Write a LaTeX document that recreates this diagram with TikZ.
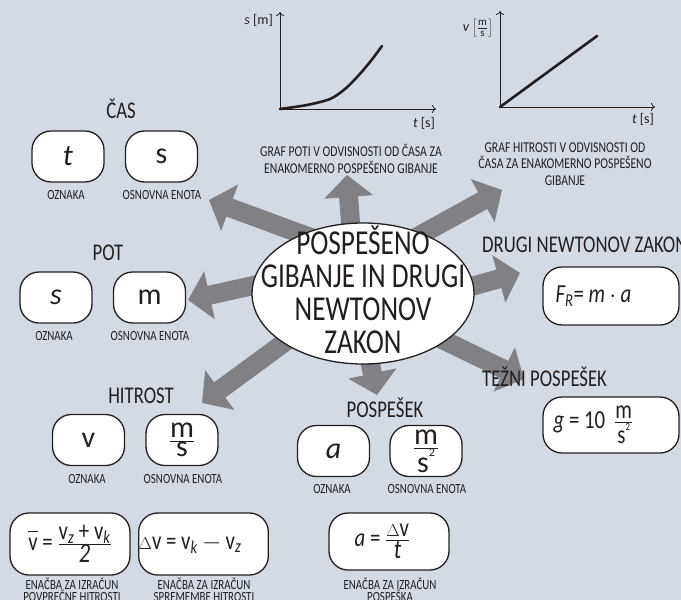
\documentclass[tikz,border=0pt]{standalone}
\usepackage{fontspec}
\setmainfont[FakeStretch=0.78]{Carlito}
\newfontfamily\symf{Carlito}
\newfontfamily\eqf[FakeStretch=0.8]{Carlito}
\newfontfamily\bigf[FakeStretch=0.78]{Carlito}
\usetikzlibrary{arrows.meta,shapes.geometric}

\definecolor{bg}{RGB}{212,218,228}
\definecolor{arrowgray}{RGB}{128,128,133}
\definecolor{ink}{RGB}{35,31,32}

\pgfdeclarelayer{paper}
\pgfdeclarelayer{under}
\pgfsetlayers{paper,under,main}

% fraction whose parts are set in the current text font
\newcommand\ufrac[2]{\ensuremath{\frac{\hbox{#1}}{\hbox{#2}}}}
\newcommand\lowidx[1]{\textsubscript{\itshape #1}}

\tikzset{
  box/.style={draw=ink, line width=1.3pt, fill=white, rounded corners=19pt,
    minimum width=72pt, minimum height=51pt, inner sep=0pt,
    font=\symf\fontsize{30}{30}\selectfont, text=ink},
  eqbox/.style={box, font=\eqf\fontsize{26}{26}\selectfont},
  title/.style={font=\fontsize{24}{24}\selectfont, text=ink, inner sep=0pt, anchor=base},
  lbl/.style={font=\fontsize{14}{12}\selectfont, text=ink, inner sep=0pt, anchor=base, align=center},
  caption/.style={font=\fontsize{15}{16.5}\selectfont, text=ink, inner sep=0pt, anchor=base, align=center},
  glab/.style={font=\symf\fontsize{14}{14}\selectfont, text=ink, inner sep=0pt},
  bigarrow/.style={draw=arrowgray, line width=19pt, shorten <=-25pt,
    -{Triangle[width=48pt,length=22pt]}},
  axis/.style={draw=ink, line width=0.8pt, -{To[length=4pt,width=8pt]}},
}

\begin{document}
\begin{tikzpicture}[x=1pt,y=-1pt]
\useasboundingbox (0,0) rectangle (681,600);
\clip (0,0) rectangle (681,600);
\begin{pgfonlayer}{paper}
  \fill[bg] (0,0) rectangle (681,600);
\end{pgfonlayer}

% ---------- central topic ----------
\node[ellipse, draw=ink, line width=1.3pt, fill=white, minimum width=222pt,
  minimum height=141pt, inner sep=0pt] (ell) at (363,293.5) {};
\node[inner sep=0pt, align=center, text=ink, anchor=base,
  font=\bigf\fontsize{35}{33}\selectfont] (ellTxt) at (363,353.5)
  {POSPEŠENO\\GIBANJE IN DRUGI\\NEWTONOV\\ZAKON};

% ---------- arrow targets ----------
\coordinate (tipCas) at (209,200);
\coordinate (tipGs) at (347,175);
\coordinate (tipGv) at (502,190);
\coordinate (tipNz) at (520,273);
\coordinate (tipTp) at (524,379);
\coordinate (tipPs) at (377,395);
\coordinate (tipHi) at (202,403);
\coordinate (tipPot) at (188,300);

\begin{pgfonlayer}{under}
  \draw[bigarrow] (ell.136) -- (tipCas);
  \draw[bigarrow] (ell.100) -- (tipGs);
  \draw[bigarrow] (ell.45) -- (tipGv);
  \draw[bigarrow] (ell.4) -- (tipNz);
  \draw[bigarrow] (ell.-30) -- (tipTp);
  \draw[bigarrow] (ell.-84) -- (tipPs);
  \draw[bigarrow] (ell.-148) -- (tipHi);
  \draw[bigarrow] (ell.176) -- (tipPot);
\end{pgfonlayer}

% ---------- graph s(t) ----------
\coordinate (so) at (280,109);
\coordinate (sy) at (280,12);
\coordinate (sx) at (436,109);
\draw[axis] (so) -- (sy);
\draw[axis] (so) -- (sx);
\draw[ink, line width=2.6pt, line cap=round]
  plot[smooth] coordinates {(280,109) (307,105) (330,99) (345,89) (358,76) (370,62) (382,46)};
\node[glab, anchor=base east] (sylab) at (273,24) {\itshape s\upshape\ [m]};
\node[glab, anchor=base] (sxlab) at (424,127) {\itshape t\upshape\ [s]};
\node[caption] (scap) at (351,173) {GRAF POTI V ODVISNOSTI OD ČASA ZA\\ENAKOMERNO POSPEŠENO GIBANJE};

% ---------- graph v(t) ----------
\coordinate (vo) at (500,107);
\coordinate (vy) at (500,11);
\coordinate (vx) at (655,107);
\draw[axis] (vo) -- (vy);
\draw[axis] (vo) -- (vx);
\draw[ink, line width=2.6pt, line cap=round] (vo) -- (597,36);
\node[glab, anchor=east] (vylab) at (493,28)
  {\itshape v\upshape\ $\left[\ufrac{\fontsize{11}{11}\selectfont m}{\fontsize{11}{11}\selectfont s}\right]$};
\node[glab, anchor=base] (vxlab) at (643,123) {\itshape t\upshape\ [s]};
\node[caption] (vcap) at (565,185) {GRAF HITROSTI V ODVISNOSTI OD\\ČASA ZA ENAKOMERNO POSPEŠENO\\GIBANJE};

% ---------- ČAS ----------
\node[title] (casT) at (121,118) {ČAS};
\node[box] (casSym) at (68,156.5) {\itshape t};
\node[box] (casUnit) at (161.5,156.5) {s};
\node[lbl] (casL1) at (66,199) {OZNAKA};
\node[lbl] (casL2) at (162,199) {OSNOVNA ENOTA};

% ---------- POT ----------
\node[title] (potT) at (108,260) {POT};
\node[box] (potSym) at (56,297.5) {\itshape s};
\node[box] (potUnit) at (149.5,297.5) {m};
\node[lbl] (potL1) at (54,340) {OZNAKA};
\node[lbl] (potL2) at (150,340) {OSNOVNA ENOTA};

% ---------- HITROST ----------
\node[title] (hitT) at (141,403) {HITROST};
\node[box] (hitSym) at (88.5,440) {v};
\node[box] (hitUnit) at (182,440) {\ufrac{m}{s}};
\node[lbl] (hitL1) at (87,483) {OZNAKA};
\node[lbl] (hitL2) at (183,483) {OSNOVNA ENOTA};

% ---------- POSPEŠEK ----------
\node[title] (posT) at (385,417) {POSPEŠEK};
\node[box] (posSym) at (333.5,451) {\itshape a};
\node[box] (posUnit) at (426,451) {\ufrac{m}{s\raisebox{1.1ex}{\fontsize{12}{12}\selectfont 2}}};
\node[lbl] (posL1) at (332,493) {OZNAKA};
\node[lbl] (posL2) at (427,493) {OSNOVNA ENOTA};

% ---------- DRUGI NEWTONOV ZAKON ----------
\node[title, anchor=base west] (nzT) at (482,252) {DRUGI NEWTONOV ZAKON};
\node[eqbox, minimum width=136pt, minimum height=58pt] (nzBox) at (611,296)
  {{\itshape F}\lowidx{R}= {\itshape m}\,$\cdot$\,{\itshape a}\hspace*{35pt}};

% ---------- TEŽNI POSPEŠEK ----------
\node[title, anchor=base west] (tpT) at (482,386) {TEŽNI POSPEŠEK};
\node[eqbox, minimum width=136pt, minimum height=56pt] (tpBox) at (611,425)
  {{\itshape g} = 10\, \ufrac{m}{s\raisebox{1.1ex}{\fontsize{11}{11}\selectfont 2}}\hspace*{35pt}};

% ---------- equations ----------
\node[eqbox, minimum width=120pt, minimum height=62pt] (eqAvg) at (70,544)
  {$\overline{\hbox{\vphantom{k}v}}$ = \ufrac{v\lowidx{z} + v\lowidx{k}}{\fontsize{28}{28}\selectfont\itshape 2}};
\node[eqbox, minimum width=117pt, minimum height=62pt] (eqDelta) at (203.5,544)
  {{\fontsize{18}{18}\selectfont$\Delta$}v = v\lowidx{k}\,$-$\,v\lowidx{z}\hspace*{27pt}};
\node[eqbox, minimum width=120pt, minimum height=57pt] (eqAcc) at (389,541.5)
  {{\itshape a} = \ufrac{{\fontsize{18}{18}\selectfont$\Delta$}v}{\fontsize{28}{28}\selectfont\itshape t}\hspace*{13pt}};

\node[lbl] (eqAvgL) at (72,601) {ENAČBA ZA IZRAČUN\\POVPREČNE HITROSTI};
\node[lbl] (eqDeltaL) at (204,601) {ENAČBA ZA IZRAČUN\\SPREMEMBE HITROSTI};
\node[lbl] (eqAccL) at (390,601) {ENAČBA ZA IZRAČUN\\POSPEŠKA};
\end{tikzpicture}
\end{document}
